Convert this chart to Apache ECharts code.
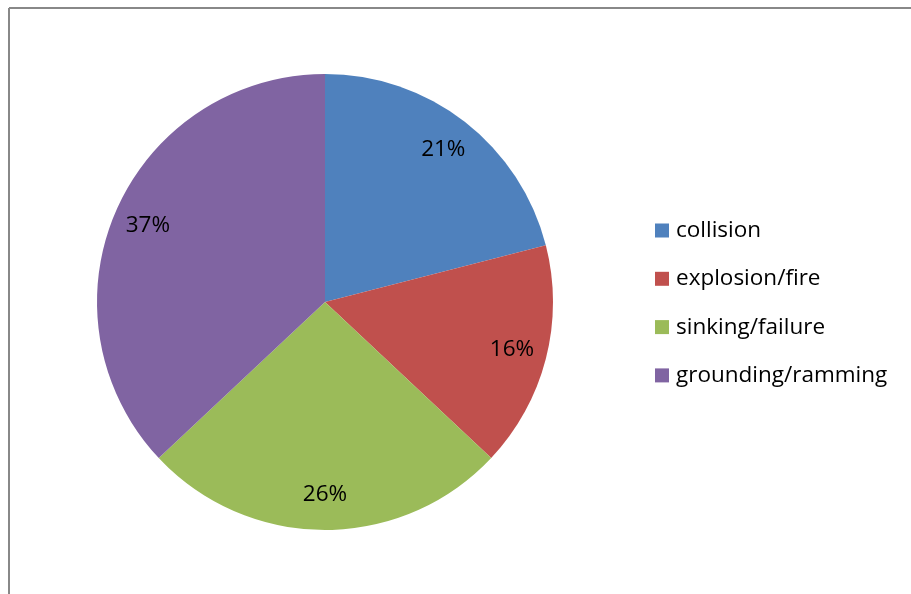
<!DOCTYPE html>
<html><head><meta charset="utf-8">
<script src="https://cdn.jsdelivr.net/npm/echarts@6/dist/echarts.min.js"></script>
<style>html,body{margin:0;padding:0;background:#fff}#c{width:911px;height:594px}</style>
</head><body><div id="c"></div>
<script>
const categories = ['collision', 'explosion/fire', 'sinking/failure', 'grounding/ramming'];
const values = [21, 16, 26, 37];
const colors = ['#4F81BD', '#C0504D', '#9BBB59', '#8064A2'];
const FONT = 'Open Sans';

const chart = echarts.init(document.getElementById('c'), null, {renderer: 'canvas'});
const data = categories.map((n, i) => ({name: n, value: values[i], itemStyle: {color: colors[i]}}));
const total = values.reduce((a, b) => a + b, 0);
chart.setOption({
  animation: false,
  graphic: [
    {type: 'line', shape: {x1: 9, y1: 8, x2: 911, y2: 8}, style: {stroke: '#888', lineWidth: 2}},
    {type: 'line', shape: {x1: 9, y1: 8, x2: 9, y2: 594}, style: {stroke: '#888', lineWidth: 2}}
  ],
  legend: {
    orient: 'vertical', left: 650, top: 214,
    itemWidth: 14, itemHeight: 14, itemGap: 25.3, icon: 'rect',
    textStyle: {fontFamily: FONT, fontSize: 22.5, color: '#000', lineHeight: 22, padding: [0, 0, 0, 2]},
    data: categories
  },
  series: [
    {
      type: 'pie', center: [325, 302], radius: [0, 228], startAngle: 90, clockwise: true,
      label: {show: false}, labelLine: {show: false}, silent: true,
      data: data
    },
    {
      type: 'pie', center: [325, 302], radius: [152, 228], startAngle: 90, clockwise: true,
      silent: true, itemStyle: {color: 'rgba(0,0,0,0)'},
      label: {show: true, position: 'inside', fontFamily: FONT, fontSize: 22.5, color: '#000',
        formatter: p => Math.round(p.value / total * 100) + '%'},
      labelLine: {show: false},
      data: categories.map((n, i) => ({name: n, value: values[i], itemStyle: {color: 'rgba(0,0,0,0)'}}))
    }
  ]
});
</script></body></html>
